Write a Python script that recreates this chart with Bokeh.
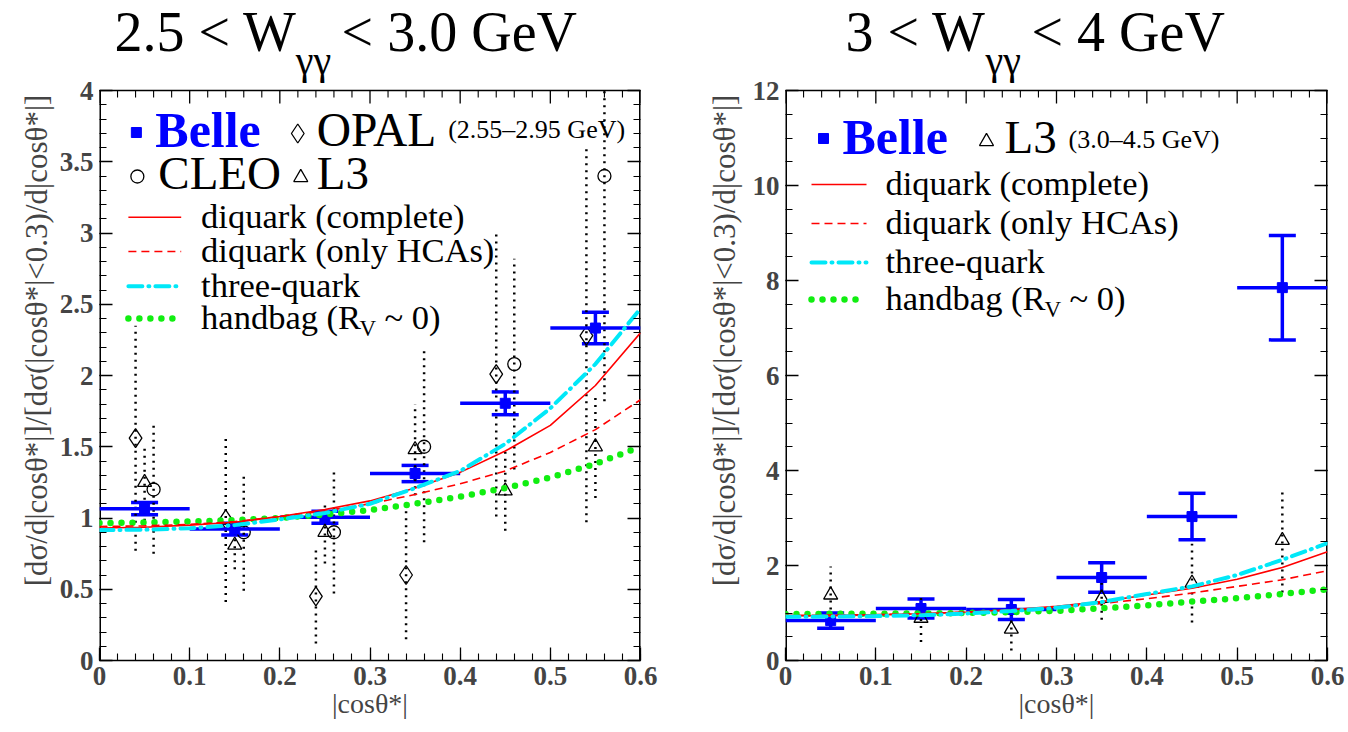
import math
from bokeh.plotting import figure
from bokeh.layouts import row
from bokeh.models import (Label, Whisker, TeeHead, ColumnDataSource, FixedTicker,
                          LinearAxis, CustomJSTickFormatter, Range1d)
from bokeh.embed import file_html
from bokeh.resources import INLINE

# ---------------- data ----------------
bin_lo = [0.0, 0.1, 0.2, 0.3, 0.4, 0.5]
bin_hi = [0.1, 0.2, 0.3, 0.4, 0.5, 0.6]
bin_c = [0.05, 0.15, 0.25, 0.35, 0.45, 0.55]

# left panel: 2.5 < W < 3.0 GeV
belle_L = [1.065, 0.922, 1.005, 1.312, 1.805, 2.333]
belle_L_err = [0.043, 0.042, 0.042, 0.057, 0.080, 0.111]
opal_x = [0.04, 0.14, 0.24, 0.34, 0.44, 0.54]
opal_y = [1.56, 0.99, 0.45, 0.60, 2.01, 2.28]
opal_err = [0.79, 0.58, 0.33, 0.45, 1.00, 1.31]
cleo_x = [0.06, 0.16, 0.26, 0.36, 0.46, 0.56]
cleo_y = [1.20, 0.90, 0.90, 1.50, 2.08, 3.40]
cleo_err = [0.45, 0.41, 0.43, 0.67, 0.74, 1.58]
l3_L = [1.25, 0.81, 0.90, 1.48, 1.19, 1.50]
l3_L_err = [0.27, 0.17, 0.22, 0.32, 0.28, 0.36]

# right panel: 3 < W < 4 GeV
belle_R = [0.84, 1.095, 1.074, 1.747, 3.03, 7.85]
belle_R_err = [0.16, 0.20, 0.21, 0.31, 0.49, 1.10]
l3_R = [1.38, 0.89, 0.66, 1.31, 1.63, 2.53]
l3_R_err = [0.60, 0.50, 0.45, 0.45, 0.83, 1.10]

# theory curves
curve_x = [0.0, 0.05, 0.1, 0.15, 0.2, 0.25, 0.3, 0.35, 0.4, 0.45, 0.5, 0.55, 0.6]
dq_full_L = [0.93, 0.935, 0.95, 0.97, 1.01, 1.06, 1.12, 1.21, 1.32, 1.47, 1.65, 1.93, 2.30]
dq_hca_L = [0.94, 0.945, 0.955, 0.975, 1.01, 1.05, 1.10, 1.165, 1.24, 1.33, 1.46, 1.62, 1.83]
tq_L = [0.915, 0.918, 0.928, 0.95, 0.99, 1.035, 1.10, 1.21, 1.33, 1.52, 1.77, 2.08, 2.47]
hb_L = [0.965, 0.968, 0.975, 0.985, 1.0, 1.025, 1.055, 1.10, 1.15, 1.21, 1.285, 1.38, 1.50]

dq_full_R = [0.94, 0.945, 0.96, 0.985, 1.02, 1.07, 1.14, 1.24, 1.38, 1.52, 1.71, 1.96, 2.29]
dq_hca_R = [0.95, 0.955, 0.965, 0.985, 1.015, 1.06, 1.12, 1.20, 1.30, 1.42, 1.56, 1.70, 1.89]
tq_R = [0.92, 0.925, 0.935, 0.955, 0.99, 1.04, 1.11, 1.23, 1.40, 1.56, 1.80, 2.12, 2.47]
hb_R = [0.98, 0.982, 0.985, 0.99, 1.0, 1.02, 1.045, 1.10, 1.16, 1.24, 1.31, 1.40, 1.50]

# axis ticks
x_major = [0.0, 0.1, 0.2, 0.3, 0.4, 0.5, 0.6]
yL_major = [0.0, 0.5, 1.0, 1.5, 2.0, 2.5, 3.0, 3.5, 4.0]
yR_major = [0, 2, 4, 6, 8, 10, 12]

y_label_txt = "[dσ/d|cosθ*|]/[dσ(|cosθ*|<0.3)/d|cosθ*|]"
x_label_txt = "|cosθ*|"
legend_names = ["diquark (complete)", "diquark (only HCAs)", "three-quark"]

# ---------------- style / layout ----------------
SERIF = "Liberation Serif"
BLUE = "#0000ff"
RED = "#ff0000"
CYAN = "#00e8f8"
GREEN = "#11ee11"
LEG = 34.5
BASE_SHIFT = 0.32   # Label "alphabetic" anchor sits this many em above the drawn baseline

STY = {
    "full": dict(line_color=RED, line_width=1.6),
    "hca": dict(line_color=RED, line_width=1.6, line_dash="8 5"),
    "tq": dict(line_color=CYAN, line_width=4, line_dash="14 6 1 6", line_cap="round"),
    "hb": dict(line_color=GREEN, line_width=6.5, line_dash="0 11", line_cap="round"),
}

NUMFMT = "return String(parseFloat(tick.toFixed(4)));"
H = 732
FY0, FY1 = 660.0, 90.0          # page pixel rows of the axes' bottom (0) and top (ymax)
MAJ_LEN, MIN_LEN = 13, 7


def minors(major, n):
    out = []
    for a, b in zip(major[:-1], major[1:]):
        for k in range(n):
            out.append(round(a + (b - a) * k / n, 6))
    out.append(major[-1])
    return out


def make_fig(width, bl, br, ymax, ymajor, yn):
    ytop = ymax * FY0 / (FY0 - FY1)   # frame reaches the page top; the box ends at ymax
    p = figure(width=width, height=H, x_range=Range1d(0, 0.6), y_range=Range1d(0, ytop),
               output_backend="svg", toolbar_location=None, title=None,
               min_border_left=bl, min_border_right=br, min_border_top=0, min_border_bottom=72)
    p.grid.visible = False
    p.outline_line_color = None
    p.background_fill_color = "white"
    p.border_fill_color = "white"
    xax = p.below[0]
    yax = p.left[0]
    xt = FixedTicker(ticks=x_major, minor_ticks=minors(x_major, 5))
    yt = FixedTicker(ticks=ymajor, minor_ticks=minors(ymajor, yn))
    xax.ticker = xt
    yax.ticker = yt
    rgt = LinearAxis(ticker=yt, formatter=CustomJSTickFormatter(code="return '';"),
                     major_label_standoff=0, major_label_text_font_size="1px")
    p.add_layout(rgt, "right")
    for ax in (xax, yax, rgt):
        ax.major_tick_in = MAJ_LEN
        ax.major_tick_out = 0
        ax.minor_tick_in = MIN_LEN
        ax.minor_tick_out = 0
        ax.major_tick_line_width = 1.3
        ax.minor_tick_line_width = 1.1
    xax.axis_line_color = "black"
    xax.axis_line_width = 1.5
    yax.axis_line_color = None
    rgt.axis_line_color = None
    for ax in (xax, yax):
        ax.formatter = CustomJSTickFormatter(code=NUMFMT)
        ax.major_label_text_font = SERIF
        ax.major_label_text_font_style = "bold"
        ax.major_label_text_font_size = "27px"
    xax.axis_label = x_label_txt
    xax.axis_label_text_font = SERIF
    xax.axis_label_text_font_style = "normal"
    xax.axis_label_text_font_size = "28px"
    xax.axis_label_standoff = 0
    xax.major_label_standoff = 6
    yax.major_label_standoff = 6

    # box edges (left/right half-clipped by the frame, hence doubled width) and top mirror ticks
    p.segment(x0=[0, 0.6], y0=[0, 0], x1=[0, 0.6], y1=[ymax, ymax], line_color="black", line_width=3)
    p.segment(x0=[0], y0=[ymax], x1=[0.6], y1=[ymax], line_color="black", line_width=1.5)
    per_px = ymax / (FY0 - FY1)
    maj = x_major
    mnr = [t for t in minors(x_major, 5) if t not in x_major]
    p.segment(x0=maj, y0=[ymax] * len(maj), x1=maj, y1=[ymax - MAJ_LEN * per_px] * len(maj),
              line_color="black", line_width=1.3)
    p.segment(x0=mnr, y0=[ymax] * len(mnr), x1=mnr, y1=[ymax - MIN_LEN * per_px] * len(mnr),
              line_color="black", line_width=1.1)
    return p


def txt(p, fx, fy, xpx, base_px, s, size, color="black", bold=False):
    """Place text with its baseline at page pixel (xpx, base_px)."""
    p.add_layout(Label(x=fx(xpx), y=fy(base_px - BASE_SHIFT * size), text=s, text_font=SERIF,
                       text_font_size=f"{size}px", text_color=color,
                       text_font_style="bold" if bold else "normal",
                       text_align="left", text_baseline="alphabetic"))


def belle(p, y, err):
    lo = [a - b for a, b in zip(y, err)]
    hi = [a + b for a, b in zip(y, err)]
    src = ColumnDataSource(dict(x=bin_c, y=y, lo=lo, hi=hi, x0=bin_lo, x1=bin_hi))
    p.segment(x0="x0", y0="y", x1="x1", y1="y", source=src, line_color=BLUE, line_width=3.5)
    p.add_layout(Whisker(source=src, base="x", upper="hi", lower="lo", dimension="height",
                         line_color=BLUE, line_width=3.5,
                         upper_head=TeeHead(size=27, line_color=BLUE, line_width=3.5),
                         lower_head=TeeHead(size=27, line_color=BLUE, line_width=3.5)))
    p.scatter(x="x", y="y", source=src, marker="square", size=10, fill_color=BLUE, line_color=BLUE)


def other(p, x, y, err, marker, size, ymax):
    lo = [max(a - b, 0) for a, b in zip(y, err)]
    hi = [min(a + b, ymax) for a, b in zip(y, err)]   # clipped at the axis top
    p.segment(x0=x, y0=lo, x1=x, y1=hi, line_color="black", line_width=2.5, line_dash="2 5")
    p.scatter(x=x, y=y, marker=marker, size=size, fill_color=None, line_color="black", line_width=1.3)


def curves(p, full, hca, tq, hb):
    p.line(curve_x, hb, **STY["hb"])
    p.line(curve_x, hca, **STY["hca"])
    p.line(curve_x, full, **STY["full"])
    p.line(curve_x, tq, **STY["tq"])


def ylabel_fig(width, cx):
    f = figure(width=width, height=H, x_range=Range1d(0, width), y_range=Range1d(H, 0),
               output_backend="svg", toolbar_location=None, x_axis_location=None, title=None,
               y_axis_location=None, min_border=0, outline_line_color=None)
    f.grid.visible = False
    f.add_layout(Label(x=cx, y=377, text=y_label_txt, angle=math.pi / 2, text_font=SERIF,
                       text_font_size="31px", text_align="center", text_baseline="middle"))
    return f


# ---------------- left panel ----------------
YL_W = 56
LX0, LX1 = 97.0, 640.0
yl1 = ylabel_fig(YL_W, 36)
p1 = make_fig(700 - YL_W, int(LX0) - YL_W, 60, 4, yL_major, 5)


def lx(px):
    return (px - LX0) / (LX1 - LX0) * 0.6


def ly(py):
    return (FY0 - py) / (FY0 - FY1) * 4.0


for xx, yy, ee, mk, sz in ((opal_x, opal_y, opal_err, "diamond", 19),
                           (cleo_x, cleo_y, cleo_err, "circle", 13),
                           (bin_c, l3_L, l3_L_err, "triangle", 14)):
    other(p1, xx, yy, ee, mk, sz, 4)
belle(p1, belle_L, belle_L_err)
curves(p1, dq_full_L, dq_hca_L, tq_L, hb_L)

# title
txt(p1, lx, ly, 112, 49, "2.5 < W", 56)
txt(p1, lx, ly, 294, 73, "γγ", 40)
txt(p1, lx, ly, 340, 49, "< 3.0 GeV", 56)

# legend
p1.scatter([lx(134)], [ly(132)], marker="square", size=10, fill_color=BLUE, line_color=BLUE)
txt(p1, lx, ly, 153, 145, "Belle", 50, color=BLUE, bold=True)
p1.scatter([lx(296)], [ly(133)], marker="diamond", size=19, fill_color=None, line_color="black", line_width=1.3)
txt(p1, lx, ly, 315, 145, "OPAL", 47.5)
txt(p1, lx, ly, 447, 137, "(2.55–2.95 GeV)", 26)
p1.scatter([lx(135)], [ly(176)], marker="circle", size=13, fill_color=None, line_color="black", line_width=1.3)
txt(p1, lx, ly, 156, 188, "CLEO", 47)
p1.scatter([lx(299)], [ly(177)], marker="triangle", size=14, fill_color=None, line_color="black", line_width=1.3)
txt(p1, lx, ly, 315, 188, "L3", 47)

rows_L = [216.7, 251.0, 285.7, 318.0]
keys = ["full", "hca", "tq", "hb"]
for i, k in enumerate(keys):
    p1.line([lx(126), lx(179)], [ly(rows_L[i]), ly(rows_L[i])], **STY[k])
for i, nm in enumerate(legend_names):
    txt(p1, lx, ly, 199, rows_L[i] + 10, nm, LEG)
txt(p1, lx, ly, 199, rows_L[3] + 10, "handbag (R", LEG)
txt(p1, lx, ly, 358, rows_L[3] + 17, "V", 23)
txt(p1, lx, ly, 383, rows_L[3] + 10, "~ 0)", LEG)

# ---------------- right panel ----------------
YR_W = 48
RX0, RX1 = 785.0, 1327.0
yl2 = ylabel_fig(YR_W, 24)
p2 = make_fig(1348 - 700 - YR_W, int(RX0) - 700 - YR_W, 21, 12, yR_major, 4)


def rx(px):
    return (px - RX0) / (RX1 - RX0) * 0.6


def ry(py):
    return (FY0 - py) / (FY0 - FY1) * 12.0


other(p2, bin_c, l3_R, l3_R_err, "triangle", 14, 12)
belle(p2, belle_R, belle_R_err)
curves(p2, dq_full_R, dq_hca_R, tq_R, hb_R)

txt(p2, rx, ry, 845, 49, "3 < W", 56)
txt(p2, rx, ry, 985, 73, "γγ", 40)
txt(p2, rx, ry, 1031, 49, "< 4 GeV", 56)

p2.scatter([rx(823)], [ry(138)], marker="square", size=10, fill_color=BLUE, line_color=BLUE)
txt(p2, rx, ry, 842, 152, "Belle", 50, color=BLUE, bold=True)
p2.scatter([rx(986)], [ry(141)], marker="triangle", size=14, fill_color=None, line_color="black", line_width=1.3)
txt(p2, rx, ry, 1004, 152, "L3", 47)
txt(p2, rx, ry, 1068, 147, "(3.0–4.5 GeV)", 26)

rows_R = [184.0, 223.0, 262.0, 299.0]
for i, k in enumerate(keys):
    p2.line([rx(811), rx(866)], [ry(rows_R[i]), ry(rows_R[i])], **STY[k])
for i, nm in enumerate(legend_names):
    txt(p2, rx, ry, 885, rows_R[i] + 10, nm, LEG)
txt(p2, rx, ry, 885, rows_R[3] + 10, "handbag (R", LEG)
txt(p2, rx, ry, 1044, rows_R[3] + 17, "V", 23)
txt(p2, rx, ry, 1069, rows_R[3] + 10, "~ 0)", LEG)

layout = row(yl1, p1, yl2, p2)
open("out.html", "w").write(file_html(layout, INLINE))
